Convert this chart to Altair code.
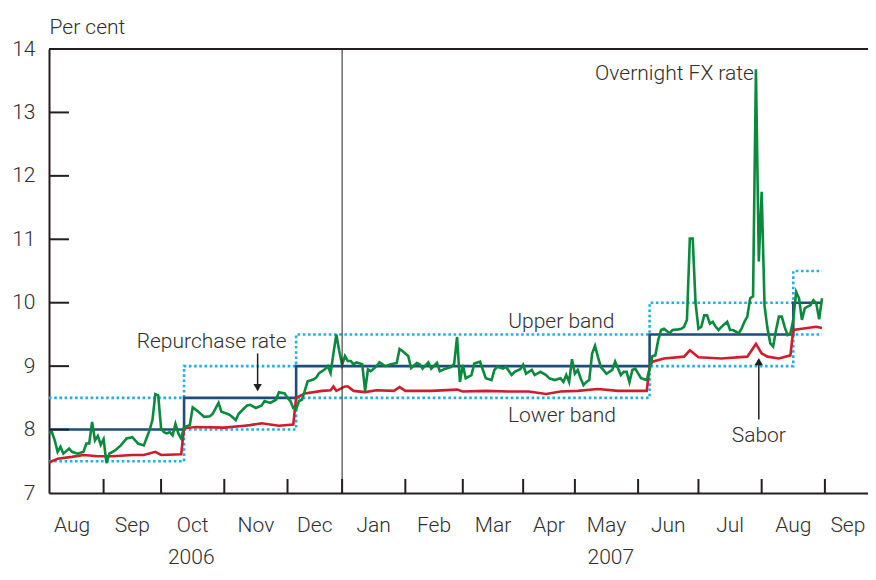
import altair as alt
import numpy as np
import pandas as pd

# ---------------- data ----------------
# South African public holidays inside the sample (non-trading days)
holidays = ["2006-08-09", "2006-09-25", "2006-12-25", "2006-12-26", "2007-01-01",
            "2007-03-21", "2007-04-06", "2007-04-09", "2007-04-27", "2007-05-01",
            "2007-08-09", "2007-09-24"]
sample_start = "2006-08-04"
axis_end = "2007-09-24"

# Overnight FX rate (trading-day number since sample start, per cent)
fx_day = [0, 1, 2, 3, 4, 5, 6, 7, 8, 10, 12, 13, 14, 15, 16, 17, 18, 19, 20, 21, 23, 25, 27, 29, 31, 33,
          35, 36, 37, 38, 39, 40, 41, 42, 43, 44, 45, 46, 47, 49, 50, 52, 54, 56, 57, 59, 60, 62, 63, 65,
          66, 68, 69, 70, 72, 74, 75, 77, 79, 80, 82, 83, 84, 85, 86, 87, 88, 89, 90, 92, 93, 94, 96, 97,
          98, 99, 100, 101, 102, 103, 104, 105, 106, 107, 109, 110, 111, 112, 114, 115, 117, 119, 121,
          122, 123, 125, 126, 128, 129, 130, 132, 133, 135, 136, 138, 140, 141, 142, 143, 144, 145, 147,
          148, 150, 151, 152, 154, 155, 156, 158, 159, 161, 162, 164, 165, 166, 168, 169, 171, 173, 174,
          176, 178, 179, 180, 181, 182, 183, 184, 185, 186, 187, 188, 189, 190, 191, 192, 194, 196, 197,
          199, 200, 201, 202, 203, 204, 206, 208, 209, 210, 211, 212, 213, 214, 216, 217, 219, 220, 221,
          222, 223, 224, 225, 226, 227, 228, 229, 230, 231, 232, 233, 234, 236, 237, 238, 240, 241, 242,
          243, 244, 245, 246, 247, 248, 249, 250, 251, 252, 253, 254, 255, 256, 257, 258, 259, 260, 261,
          262, 263, 264, 265, 266, 267, 268, 269]
fx_rate = [7.95, 7.96, 7.83, 7.65, 7.73, 7.62, 7.66, 7.70, 7.65, 7.62, 7.65, 7.78, 7.78, 8.12, 7.83, 7.90,
           7.76, 7.85, 7.47, 7.62, 7.67, 7.75, 7.86, 7.88, 7.78, 7.75,
           7.99, 8.15, 8.56, 8.54, 8.02, 7.96, 7.94, 7.96, 7.91, 8.09, 7.94, 7.86, 8.04, 8.07, 8.35, 8.28,
           8.20, 8.21, 8.25, 8.42, 8.28, 8.25, 8.23, 8.15,
           8.25, 8.34, 8.38, 8.39, 8.34, 8.38, 8.45, 8.42, 8.47, 8.59, 8.57, 8.50, 8.45, 8.34, 8.32, 8.45,
           8.47, 8.61, 8.76, 8.79, 8.82, 8.89, 8.95, 9.00,
           8.89, 9.21, 9.50, 9.24, 9.02, 9.16, 9.08, 9.08, 9.03, 9.06, 9.03, 8.61, 8.95, 8.92, 9.00, 9.06,
           9.00, 9.03, 9.05,
           9.27, 9.24, 9.16, 8.97, 9.05, 9.03, 8.96, 9.06, 8.96, 9.05, 8.92, 8.96, 8.99, 9.04, 9.46, 8.75,
           9.02, 8.81, 8.86,
           9.04, 9.07, 8.94, 8.81, 8.78, 8.94, 8.99, 8.96, 8.99, 8.86, 8.91, 8.95, 9.02, 8.88, 8.94, 8.86,
           8.91, 8.86, 8.81,
           8.78, 8.81, 8.75, 8.86, 8.75, 9.11, 8.88, 8.94, 8.81, 8.70, 8.75, 8.78, 9.20, 9.32, 9.15, 8.99,
           8.88, 8.94, 9.07,
           8.86, 8.91, 8.91, 8.75, 8.94, 8.96, 8.81, 8.78, 8.95, 9.16, 9.17, 9.41, 9.57, 9.59, 9.52, 9.57,
           9.58, 9.59, 9.62,
           9.73, 11.01, 11.01, 9.99, 9.59, 9.62, 9.80, 9.80, 9.67, 9.70, 9.62, 9.57, 9.62, 9.70, 9.57, 9.57,
           9.52, 9.59, 9.70,
           9.78, 10.07, 10.10, 13.68, 10.65, 11.75, 9.95, 9.60, 9.36, 9.31, 9.57, 9.78, 9.78, 9.62, 9.49,
           9.52, 9.73, 10.17, 10.07,
           9.73, 9.91, 9.94, 9.96, 10.04, 9.99, 9.74, 10.07]

# Sabor
sabor_day = [0, 3, 8, 12, 17, 22, 29, 33, 37, 39, 46, 47, 51, 61, 68, 70, 74, 80, 85, 86, 89, 95, 98,
             99, 100, 103, 104, 106, 110, 114, 120, 122, 124, 133, 142, 144, 152, 160, 167, 173, 178,
             184, 191, 198, 208, 209, 210, 214, 221, 223, 226, 234, 243, 246, 248, 250, 254, 258, 259,
             262, 267, 269]
sabor_rate = [7.48, 7.54, 7.57, 7.60, 7.58, 7.58, 7.60, 7.60, 7.65, 7.60, 7.61, 8.02, 8.04, 8.03, 8.06,
              8.07, 8.10, 8.06, 8.08, 8.50, 8.57, 8.61, 8.62, 8.68, 8.61, 8.68, 8.68, 8.61, 8.59, 8.62,
              8.61, 8.67, 8.61, 8.61, 8.63, 8.60, 8.61, 8.60, 8.60, 8.56, 8.60, 8.61, 8.64, 8.61, 8.61,
              8.99, 9.07, 9.12, 9.15, 9.25, 9.14, 9.12, 9.15, 9.35, 9.20, 9.15, 9.12, 9.17, 9.57, 9.59,
              9.62, 9.60]

# Repurchase rate and its band (changes in force from the given trading day)
repo_day = [0, 47, 86, 209, 259, 269]
repo_rate = [8.0, 8.5, 9.0, 9.5, 10.0, 10.0]
upper_band = [8.5, 9.0, 9.5, 10.0, 10.5, 10.5]
lower_band = [7.5, 8.0, 8.5, 9.0, 9.5, 9.5]

month_starts = ["2006-08-01", "2006-09-01", "2006-10-01", "2006-11-01", "2006-12-01", "2007-01-01",
                "2007-02-01", "2007-03-01", "2007-04-01", "2007-05-01", "2007-06-01", "2007-07-01",
                "2007-08-01", "2007-09-01", "2007-10-01"]
month_names = ["Aug", "Sep", "Oct", "Nov", "Dec", "Jan", "Feb", "Mar", "Apr", "May", "Jun", "Jul",
               "Aug", "Sep"]
years = ["2006", "2007"]
year_starts = ["2006-08-01", "2007-01-01", "2007-10-01"]
y_values = [7, 8, 9, 10, 11, 12, 13, 14]
y_inner_ticks = [8, 9, 10, 11, 12, 13]


def tday(d):
    return float(np.busday_count(sample_start, d, holidays=holidays))


end_day = tday(axis_end)
ms = [tday(d) for d in month_starts]
# month labels centred in their month, kept inside the drawing at the right edge
month_df = pd.DataFrame({"n": [min((ms[i] + ms[i + 1]) / 2, end_day - 7)
                               for i in range(len(month_names))],
                         "label": month_names})
tick_df = pd.DataFrame({"n": [m for m in ms if 0 < m < end_day]})
ys = [tday(d) for d in year_starts]
year_df = pd.DataFrame({"n": [(ys[0] + ys[1]) / 2, (ys[1] + ys[2]) / 2], "label": years})
yearline_df = pd.DataFrame({"n": [ys[1]]})

fx_df = pd.DataFrame({"n": fx_day, "v": fx_rate})
sabor_df = pd.DataFrame({"n": sabor_day, "v": sabor_rate})
repo_df = pd.DataFrame({"n": repo_day, "v": repo_rate})
up_df = pd.DataFrame({"n": repo_day, "v": upper_band})
lo_df = pd.DataFrame({"n": repo_day, "v": lower_band})
ytick_df = pd.DataFrame({"v": y_inner_ticks})

labels_c = pd.DataFrame({"n": [178.3, 178.5, 56.6, 247.0],
                         "v": [9.60, 8.12, 9.29, 7.80],
                         "label": ["Upper band", "Lower band", "Repurchase rate", "Sabor"]})
labels_r = pd.DataFrame({"n": [245.3], "v": [13.51], "label": ["Overnight FX rate"]})
shafts = pd.DataFrame({"n": [72.6, 247.0], "v": [9.20, 8.16], "v2": [8.62, 9.10]})
head_dn = pd.DataFrame({"n": [72.6], "v": [8.66]})
head_up = pd.DataFrame({"n": [247.0], "v": [9.07]})

# ---------------- styling ----------------
FONT = "Roboto"
FW = 300
TEXT = "#2e2e2e"
INK = "#231f20"
W, H = 819, 444
FS = 21

x_scale = alt.Scale(domain=[0, end_day], nice=False, zero=False)
y_scale = alt.Scale(domain=[7, 14], nice=False, zero=False)
X = alt.X("n:Q", scale=x_scale,
          axis=alt.Axis(labels=False, ticks=False, grid=False, domainWidth=2, domainColor=INK),
          title=None)
Y = alt.Y("v:Q", scale=y_scale,
          axis=alt.Axis(values=y_values, ticks=False, tickSize=0, grid=False, domainWidth=2,
                        domainColor=INK, labelFontSize=FS, labelColor=TEXT, labelFont=FONT,
                        labelFontWeight=FW,
                        labelPadding=14, title="Per cent", titleAngle=0, titleAlign="left",
                        titleBaseline="alphabetic", titleX=0, titleY=-16, titleFontSize=FS,
                        titleFont=FONT, titleColor=TEXT, titleFontWeight=FW))

band_style = dict(color="#22aee8", strokeWidth=2.6, strokeDash=[2.6, 2.6], interpolate="step-after")
upper = alt.Chart(up_df).mark_line(**band_style).encode(x=X, y=Y)
lower = alt.Chart(lo_df).mark_line(**band_style).encode(x=X, y=Y)
repo = alt.Chart(repo_df).mark_line(color="#1e4d7b", strokeWidth=2.6,
                                    interpolate="step-after").encode(x=X, y=Y)
sabor = alt.Chart(sabor_df).mark_line(color="#cc1f2b", strokeWidth=2.6).encode(x=X, y=Y)
fx = alt.Chart(fx_df).mark_line(color="#0b8a3e", strokeWidth=2.6).encode(x=X, y=Y)

top_border = alt.Chart(ytick_df).mark_rule(color=INK, strokeWidth=2).encode(
    x=alt.value(0), x2=alt.value(W), y=alt.value(0))
yticks = alt.Chart(ytick_df).mark_rule(color=INK, strokeWidth=2).encode(
    x=alt.value(0), x2=alt.value(20), y=Y)
xticks = alt.Chart(tick_df).mark_rule(color=INK, strokeWidth=2).encode(
    x=X, y=alt.value(H), y2=alt.value(H - 14))
yearline = alt.Chart(yearline_df).mark_rule(color=INK, strokeWidth=1).encode(
    x=X, y=alt.value(0), y2=alt.value(H))

txt = dict(font=FONT, fontSize=FS, fontWeight=FW, color=TEXT, baseline="alphabetic")
months = alt.Chart(month_df).mark_text(align="center", **txt).encode(
    x=X, y=alt.value(483), text="label:N")
yrs = alt.Chart(year_df).mark_text(align="center", **txt).encode(
    x=X, y=alt.value(515), text="label:N")
ann_c = alt.Chart(labels_c).mark_text(align="center", **txt).encode(x=X, y=Y, text="label:N")
ann_r = alt.Chart(labels_r).mark_text(align="right", **txt).encode(x=X, y=Y, text="label:N")
shaft = alt.Chart(shafts).mark_rule(color=INK, strokeWidth=1.5).encode(x=X, y=Y, y2="v2:Q")
hd = alt.Chart(head_dn).mark_point(shape="triangle-down", filled=True, size=70, color=INK,
                                   opacity=1).encode(x=X, y=Y)
hu = alt.Chart(head_up).mark_point(shape="triangle-up", filled=True, size=70, color=INK,
                                   opacity=1).encode(x=X, y=Y)

chart = alt.layer(
    upper, lower, repo, sabor, fx, yearline, top_border, yticks, xticks,
    months, yrs, ann_c, ann_r, shaft, hd, hu
).properties(
    width=W, height=H,
    padding={"left": 41, "top": 41, "right": 0, "bottom": 77},
    autosize=alt.AutoSizeParams(type="none"),
    background="white",
).configure_view(stroke="transparent")

chart.save("out.html", embed_options={"renderer": "svg", "actions": False})
